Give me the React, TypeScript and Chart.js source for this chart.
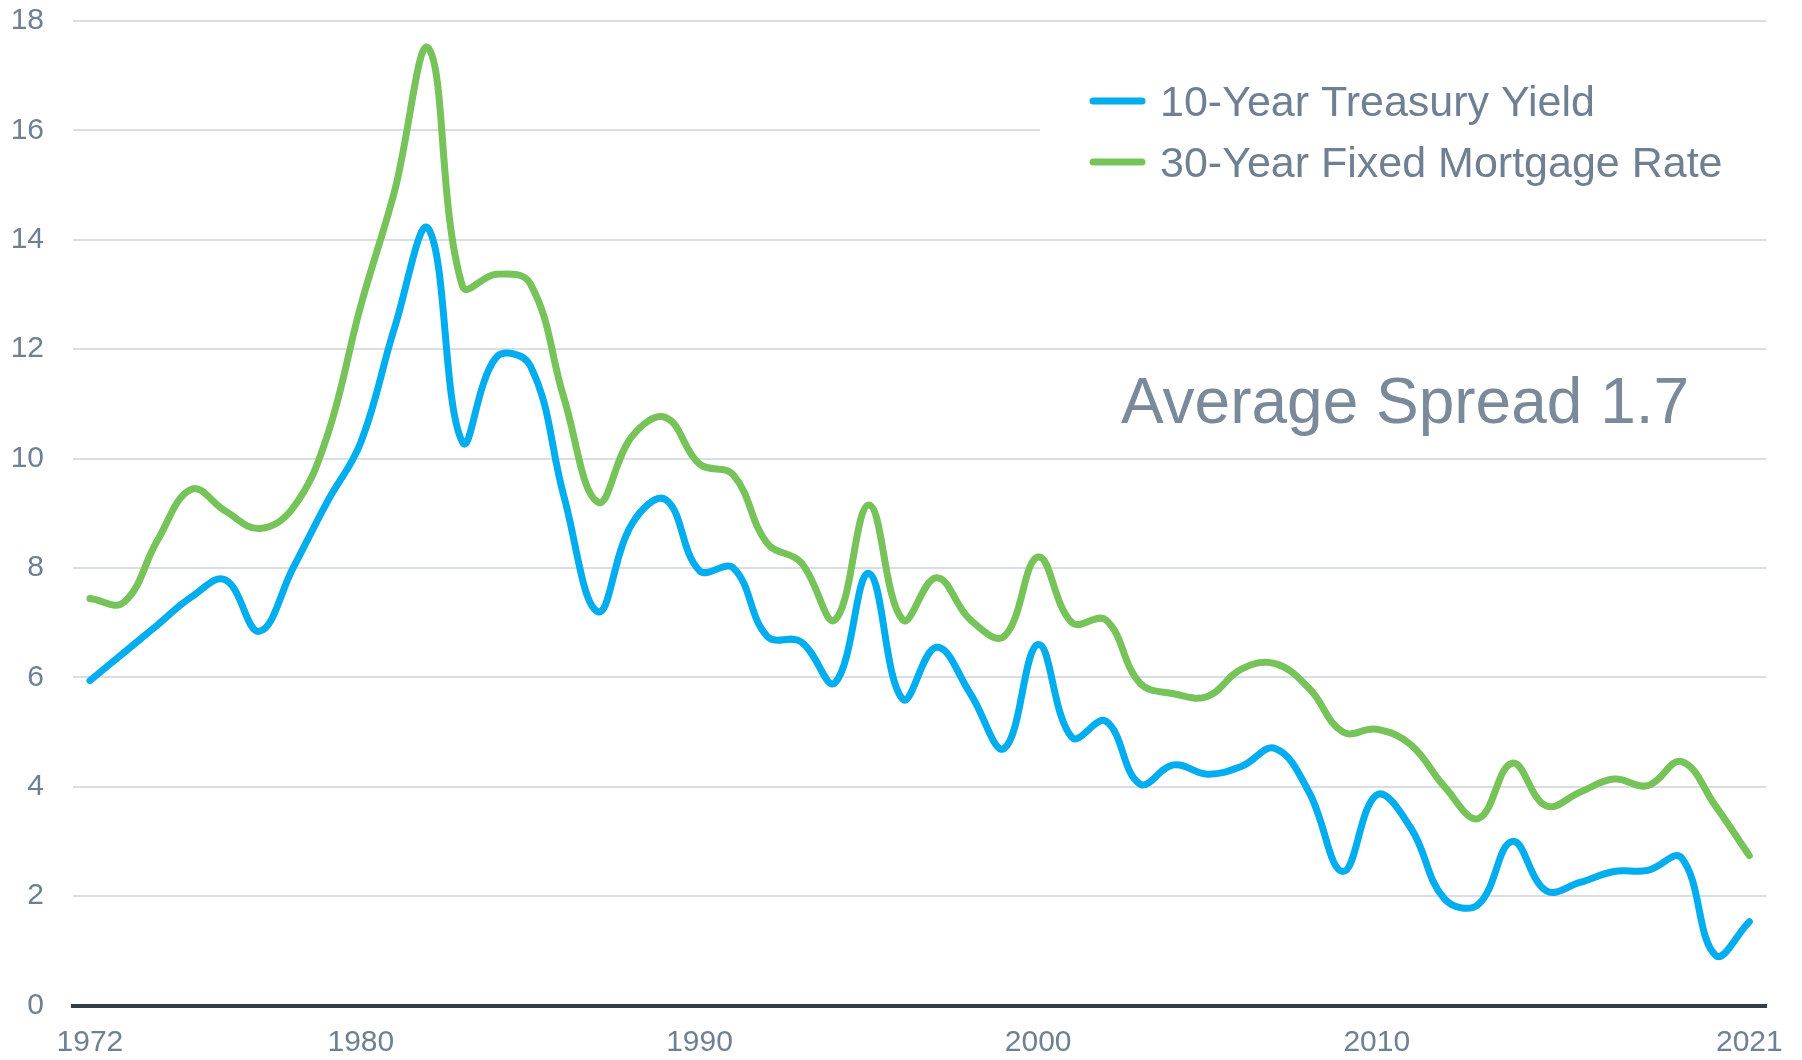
import React, { useEffect, useRef } from "react";
import { Chart, registerables } from "chart.js";

Chart.register(...registerables);

// ---- data ----
const years = [
  "1972", "1973", "1974", "1975", "1976", "1977", "1978", "1979", "1980", "1981",
  "1982", "1983", "1984", "1985", "1986", "1987", "1988", "1989", "1990", "1991",
  "1992", "1993", "1994", "1995", "1996", "1997", "1998", "1999", "2000", "2001",
  "2002", "2003", "2004", "2005", "2006", "2007", "2008", "2009", "2010", "2011",
  "2012", "2013", "2014", "2015", "2016", "2017", "2018", "2019", "2020", "2021",
];

const tickYears = ["1972", "1980", "1990", "2000", "2010", "2021"];

const treasuryYield = [
  5.94, 6.45, 6.96, 7.47, 7.78, 6.84, 8.0, 9.2, 10.3, 12.4,
  14.2, 10.3, 11.85, 11.7, 9.3, 7.2, 8.8, 9.25, 7.95, 8.0,
  6.75, 6.65, 5.9, 7.9, 5.6, 6.55, 5.7, 4.7, 6.6, 4.9,
  5.2, 4.05, 4.4, 4.23, 4.37, 4.7, 3.9, 2.45, 3.85, 3.25,
  1.95, 1.85, 3.0, 2.1, 2.25, 2.45, 2.47, 2.7, 0.92, 1.53,
];

const mortgageRate = [
  7.44, 7.37, 8.51, 9.44, 9.04, 8.72, 9.1, 10.4, 12.8, 14.9,
  17.5, 13.15, 13.37, 13.2, 11.1, 9.2, 10.4, 10.75, 9.9, 9.7,
  8.45, 8.1, 7.05, 9.15, 7.05, 7.82, 7.05, 6.75, 8.2, 7.0,
  7.05, 5.9, 5.7, 5.65, 6.15, 6.25, 5.8, 5.0, 5.05, 4.77,
  4.0, 3.42, 4.43, 3.65, 3.9, 4.14, 4.02, 4.46, 3.65, 2.74,
];

const seriesNames = ["10-Year Treasury Yield", "30-Year Fixed Mortgage Rate"];
const annotationText = "Average Spread 1.7";

// ---- styles ----
const FONT = '"Liberation Sans", Arial, Helvetica, sans-serif';
const TEXT = "#6F8094";
const BLUE = "#00AEEF";
const GREEN = "#76C35A";

const overlayPlugin = {
  id: "overlay",
  afterDraw(chart: any) {
    const ctx = chart.ctx as CanvasRenderingContext2D;
    const area = chart.chartArea;
    ctx.save();
    // legend background box (hides gridline behind legend)
    ctx.fillStyle = "#ffffff";
    ctx.fillRect(1040, 40, area.right - 1040 + 4, 160);

    const rowY = [101, 162];
    chart.data.datasets.forEach((ds: any, i: number) => {
      const y = rowY[i];
      ctx.strokeStyle = ds.borderColor;
      ctx.lineWidth = 7;
      ctx.lineCap = "round";
      ctx.beginPath();
      ctx.moveTo(1093, y);
      ctx.lineTo(1142, y);
      ctx.stroke();
      ctx.fillStyle = TEXT;
      ctx.font = `43px ${FONT}`;
      ctx.textAlign = "left";
      ctx.textBaseline = "alphabetic";
      ctx.fillText(ds.label, 1160, y + 15);
    });

    ctx.fillStyle = "#7A8A9B";
    ctx.font = `64px ${FONT}`;
    ctx.textAlign = "left";
    ctx.textBaseline = "alphabetic";
    ctx.fillText(annotationText, 1121, 423);
    ctx.restore();
  },
};

export default function App() {
  const canvasRef = useRef<HTMLCanvasElement | null>(null);

  useEffect(() => {
    document.body.style.margin = "0";
    const canvas = canvasRef.current;
    if (!canvas) return;
    Chart.defaults.font.family = FONT;

    const chart = new Chart(canvas, {
      type: "line",
      data: {
        labels: years,
        datasets: [
          {
            label: seriesNames[0],
            data: treasuryYield,
            borderColor: BLUE,
            backgroundColor: BLUE,
            borderWidth: 7,
            pointRadius: 0,
            tension: 0.4,
            borderCapStyle: "round",
            borderJoinStyle: "round",
            fill: false,
          },
          {
            label: seriesNames[1],
            data: mortgageRate,
            borderColor: GREEN,
            backgroundColor: GREEN,
            borderWidth: 7,
            pointRadius: 0,
            tension: 0.4,
            borderCapStyle: "round",
            borderJoinStyle: "round",
            fill: false,
          },
        ],
      },
      options: {
        responsive: false,
        animation: false,
        devicePixelRatio: 1,
        layout: { padding: { top: 21, right: 32, bottom: 0, left: 0 } },
        plugins: {
          legend: { display: false },
          tooltip: { enabled: false },
        },
        scales: {
          x: {
            type: "category",
            offset: true,
            grid: { display: false, drawTicks: false },
            border: { display: true, color: "#333E49", width: 4 },
            ticks: {
              autoSkip: false,
              maxRotation: 0,
              minRotation: 0,
              padding: 19,
              color: TEXT,
              font: { size: 30, family: FONT, lineHeight: 1.2 },
              callback: function (this: any, val: any) {
                const l = this.getLabelForValue(val);
                return tickYears.includes(l) ? l : "";
              },
            },
            afterFit: (scale: any) => {
              scale.height = 54.5;
            },
          },
          y: {
            min: 0,
            max: 18,
            ticks: {
              stepSize: 2,
              padding: 29,
              color: TEXT,
              font: { size: 30, family: FONT, lineHeight: 1.2 },
            },
            grid: {
              color: (c: any) => (c.tick && c.tick.value === 0 ? "rgba(0,0,0,0)" : "#DADDE3"),
              lineWidth: 2,
              drawTicks: false,
            },
            border: { display: false },
            afterFit: (scale: any) => {
              scale.width = 73;
              scale.paddingTop = 0;
              scale.paddingBottom = 0;
            },
          },
        },
      },
      plugins: [overlayPlugin],
    } as any);

    return () => chart.destroy();
  }, []);

  return (
    <div style={{ width: 1802, height: 1060, position: "relative", background: "#fff" }}>
      <canvas ref={canvasRef} width={1802} height={1060} style={{ display: "block" }} />
    </div>
  );
}
